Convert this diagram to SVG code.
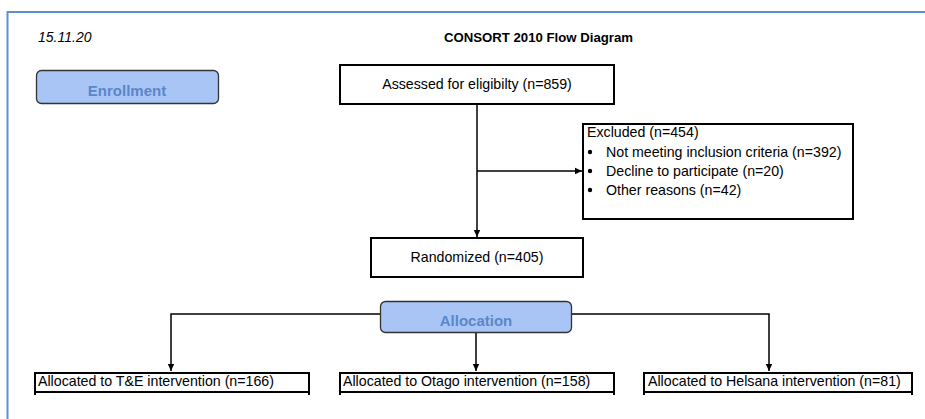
<svg xmlns="http://www.w3.org/2000/svg" width="925" height="419" viewBox="0 0 925 419">
<style>
  text { font-family: "Liberation Sans", Arial, sans-serif; fill: #000; }
  .box { fill: #fff; stroke: #000; stroke-width: 2; }
  .phase { fill: #a9c5f6; stroke: #333; stroke-width: 1.3; }
  .phaseText { font-size: 15px; font-weight: bold; fill: #5a87c8; text-anchor: middle; }
  .t14 { font-size: 14.2px; }
  .mid { text-anchor: middle; }
  .conn { fill: none; stroke: #000; stroke-width: 1.5; }
</style>
<defs>
  <marker id="arr" markerWidth="8" markerHeight="8" refX="7" refY="4" orient="auto" markerUnits="userSpaceOnUse">
    <path d="M0,0.8 L7,4 L0,7.2 Z" fill="#000"/>
  </marker>
</defs>
<rect width="925" height="419" fill="#fff"/>
<path d="M7.5,419 L7.5,12 L925,12" fill="none" stroke="#5b8fd6" stroke-width="2"/>

<g id="header">
  <text x="38" y="42" font-size="14" font-style="italic">15.11.20</text>
  <text x="633" y="42" font-size="13.2" font-weight="bold" text-anchor="end">CONSORT 2010 Flow Diagram</text>
</g>

<g id="connectors">
  <path class="conn" d="M477,104 L477,237" marker-end="url(#arr)"/>
  <path class="conn" d="M477,171 L582,171" marker-end="url(#arr)"/>
  <path class="conn" d="M380,314 L171,314 L171,371" marker-end="url(#arr)"/>
  <path class="conn" d="M476,333 L476,371" marker-end="url(#arr)"/>
  <path class="conn" d="M572,314 L769,314 L769,371" marker-end="url(#arr)"/>
</g>

<g id="enrollment">
  <rect class="phase" x="36.5" y="70.5" width="182" height="33" rx="5"/>
  <text class="phaseText" x="127" y="96">Enrollment</text>
</g>

<g id="assessed">
  <rect class="box" x="340" y="65" width="274" height="39"/>
  <text class="t14 mid" x="477" y="89">Assessed for eligibilty (n=859)</text>
</g>

<g id="excluded">
  <rect class="box" x="583" y="124" width="270" height="95"/>
  <text class="t14" x="587" y="137">Excluded (n=454)</text>
  <circle cx="590" cy="152" r="2.2"/>
  <text class="t14" x="606" y="157">Not meeting inclusion criteria (n=392)</text>
  <circle cx="590" cy="171" r="2.2"/>
  <text class="t14" x="606" y="176">Decline to participate (n=20)</text>
  <circle cx="590" cy="190" r="2.2"/>
  <text class="t14" x="606" y="195">Other reasons (n=42)</text>
</g>

<g id="randomized">
  <rect class="box" x="371" y="238" width="212" height="39"/>
  <text class="t14 mid" x="477" y="262">Randomized (n=405)</text>
</g>

<g id="allocation">
  <rect class="phase" x="380.5" y="301.5" width="191" height="31" rx="5"/>
  <text class="phaseText" x="476" y="326">Allocation</text>
</g>

<g id="alloc-te">
  <path d="M35,395 L35,373 L309,373 L309,395 M35,392 L309,392" fill="none" stroke="#000" stroke-width="2"/>
  <text class="t14" x="38" y="386">Allocated to T&amp;E intervention (n=166)</text>
</g>

<g id="alloc-otago">
  <path d="M340,395 L340,373 L614,373 L614,395 M340,392 L614,392" fill="none" stroke="#000" stroke-width="2"/>
  <text class="t14" x="343" y="386">Allocated to Otago intervention (n=158)</text>
</g>

<g id="alloc-helsana">
  <path d="M644,395 L644,373 L912,373 L912,395 M644,392 L912,392" fill="none" stroke="#000" stroke-width="2"/>
  <text class="t14" x="648" y="386">Allocated to Helsana intervention (n=81)</text>
</g>
</svg>
